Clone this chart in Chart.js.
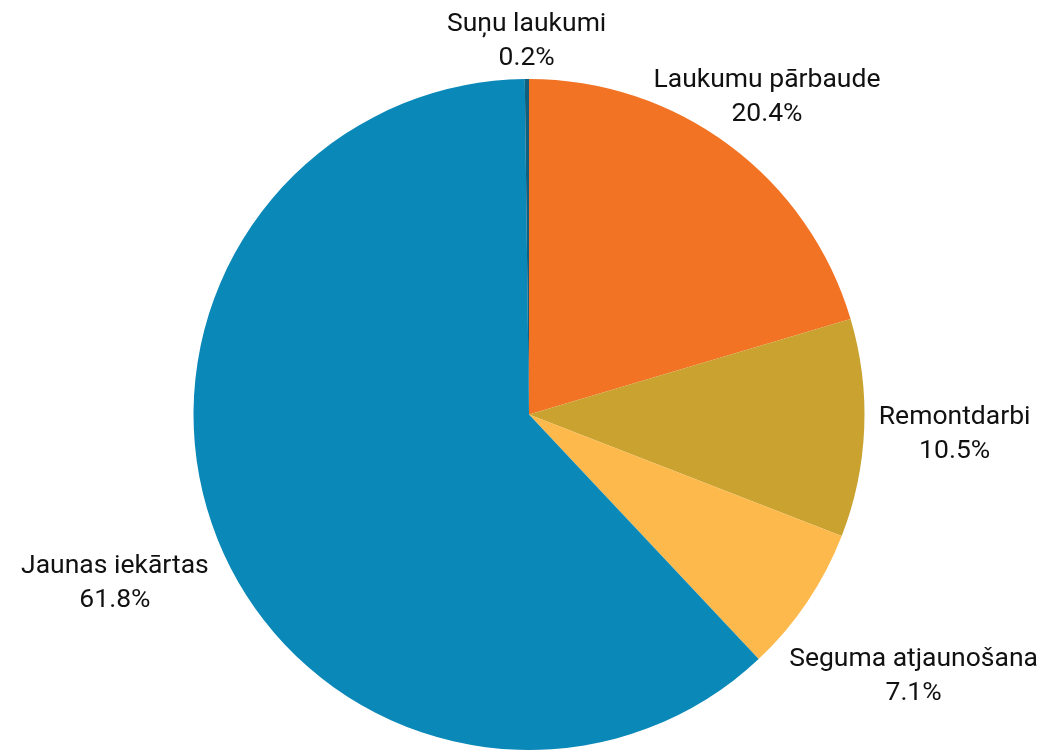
<!DOCTYPE html>
<html>
<head>
<meta charset="utf-8">
<script src="https://cdn.jsdelivr.net/npm/chart.js@4/dist/chart.umd.min.js"></script>
<style>
  html, body { margin: 0; padding: 0; background: #fff; }
  #wrap { width: 1061px; height: 750px; }
</style>
</head>
<body>
<div id="wrap"><canvas id="myChart"></canvas></div>
<script>
// dati - sākot no augšas, pulksteņrādītāja virzienā
const categories = ["Laukumu pārbaude", "Remontdarbi", "Seguma atjaunošana", "Jaunas iekārtas", "Suņu laukumi"];
const shares = [20.4, 10.5, 7.1, 61.8, 0.2];
const colors = ["#f37324", "#c9a22f", "#fdb94c", "#0a88b8", "#0f5f7d"];

const FONT = "26.5px Roboto";
const LINE = 34;
const GAP = 14;

// attālums no punkta līdz taisnstūrim
function rectDist(px, py, r) {
  const dx = Math.max(r.x0 - px, 0, px - r.x1);
  const dy = Math.max(r.y0 - py, 0, py - r.y1);
  return Math.hypot(dx, dy);
}

//teksti ārpus pīrāga - bīda pa stara virzienu, līdz neskar apli
const outLabels = {
  id: "outLabels",
  afterDatasetsDraw(chart) {
    const ctx = chart.ctx;
    const meta = chart.getDatasetMeta(0);
    ctx.save();
    ctx.font = FONT;
    ctx.fillStyle = "#111";
    ctx.textAlign = "center";
    ctx.textBaseline = "alphabetic";
    const cap = ctx.measureText("H").actualBoundingBoxAscent;
    meta.data.forEach((arc, i) => {
      const p = arc.getProps(["x", "y", "startAngle", "endAngle", "outerRadius"], true);
      const mid = (p.startAngle + p.endAngle) / 2;
      const ux = Math.cos(mid);
      const uy = Math.sin(mid);
      const line1 = categories[i];
      const line2 = shares[i].toFixed(1) + "%";
      const w1 = ctx.measureText(line1).width;
      const w2 = ctx.measureText(line2).width;
      // bāzes līnijas attiecībā pret bloka centru
      const b1 = -(LINE + cap) / 2 + cap;
      const b2 = b1 + LINE;
      let d = p.outerRadius;
      let cx, cy;
      for (; d < p.outerRadius + 400; d += 0.5) {
        cx = ux * d;
        cy = uy * d;
        const r1 = { x0: cx - w1 / 2, x1: cx + w1 / 2, y0: cy + b1 - cap, y1: cy + b1 };
        const r2 = { x0: cx - w2 / 2, x1: cx + w2 / 2, y0: cy + b2 - cap, y1: cy + b2 };
        if (Math.min(rectDist(0, 0, r1), rectDist(0, 0, r2)) >= p.outerRadius + GAP) break;
      }
      ctx.fillText(line1, p.x + cx, p.y + cy + b1);
      ctx.fillText(line2, p.x + cx, p.y + cy + b2);
    });
    ctx.restore();
  },
};

const myChart = new Chart(document.getElementById("myChart"), {
  type: "pie",
  data: {
    labels: categories,
    datasets: [
      {
        data: shares,
        backgroundColor: colors,
        borderWidth: 0,
        hoverOffset: 0,
      },
    ],
  },
  options: {
    responsive: true,
    maintainAspectRatio: false,
    animation: false,
    layout: { padding: { top: 79, bottom: -1, left: 189, right: 192 } },
    plugins: {
      legend: { display: false },
      tooltip: { enabled: false },
    },
  },
  plugins: [outLabels],
});
</script>
</body>
</html>
